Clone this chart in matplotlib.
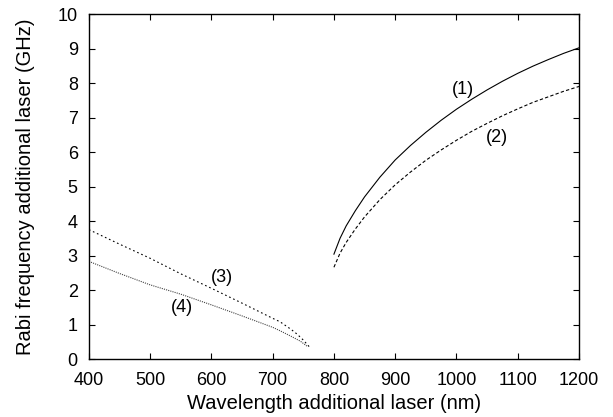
import matplotlib
matplotlib.use('Agg')
import matplotlib.pyplot as plt

plt.rcParams['font.family'] = ['Liberation Sans', 'DejaVu Sans']

# curve (1) and (2): above 800 nm
wl_red = [800, 810, 820, 835, 850, 875, 900, 925, 950, 975, 1000,
          1025, 1050, 1075, 1100, 1125, 1150, 1175, 1200]
rabi_1 = [3.04, 3.50, 3.86, 4.30, 4.70, 5.27, 5.77, 6.19, 6.57, 6.92, 7.24,
          7.53, 7.80, 8.05, 8.28, 8.49, 8.68, 8.86, 9.02]
rabi_2 = [2.66, 3.07, 3.38, 3.77, 4.12, 4.62, 5.05, 5.42, 5.76, 6.06, 6.34,
          6.60, 6.83, 7.05, 7.25, 7.44, 7.60, 7.76, 7.90]

# curve (3) and (4): below 760 nm
wl_blue_3 = [400, 450, 500, 550, 600, 650, 700, 712, 730, 740, 750, 760]
rabi_3 = [3.75, 3.33, 2.92, 2.47, 2.05, 1.62, 1.18, 1.08, 0.86, 0.72, 0.55, 0.35]
wl_blue_4 = [400, 450, 500, 550, 600, 650, 700, 712, 730, 745, 757]
rabi_4 = [2.83, 2.48, 2.15, 1.88, 1.57, 1.25, 0.92, 0.82, 0.66, 0.52, 0.36]

curve_labels = ['(1)', '(2)', '(3)', '(4)']
label_pos = [(1010, 7.8), (1066, 6.43), (617, 2.35), (552, 1.48)]

fig = plt.figure(figsize=(6.13, 4.17), dpi=100)
ax = fig.add_axes([0.145, 0.139, 0.7995, 0.8274])

ax.plot(wl_red, rabi_1, color='black', lw=0.8, ls='-')
ax.plot(wl_red, rabi_2, color='black', lw=0.8, ls=(0, (3, 2)))
ax.plot(wl_blue_3, rabi_3, color='black', lw=0.8, ls=(0, (1.5, 2.5)))
ax.plot(wl_blue_4, rabi_4, color='#444444', lw=0.8, ls=(0, (1, 1)))

for txt, (x, y) in zip(curve_labels, label_pos):
    ax.text(x, y, txt, ha='center', va='center', fontsize=13)

ax.set_xlim(400, 1200)
ax.set_ylim(0, 10)
ax.set_xticks(range(400, 1201, 100))
ax.set_yticks(range(0, 11))
ax.tick_params(direction='in', top=True, right=True, length=4, width=0.8, labelsize=13)
ax.tick_params(axis='x', pad=9)
ax.tick_params(axis='y', pad=8)
for s in ax.spines.values():
    s.set_linewidth(1.0)

ax.set_xlabel('Wavelength additional laser (nm)', fontsize=14.5, labelpad=4)
ax.set_ylabel('Rabi frequency additional laser (GHz)', fontsize=14.5, labelpad=16)

fig.savefig('out.png', dpi=100)
